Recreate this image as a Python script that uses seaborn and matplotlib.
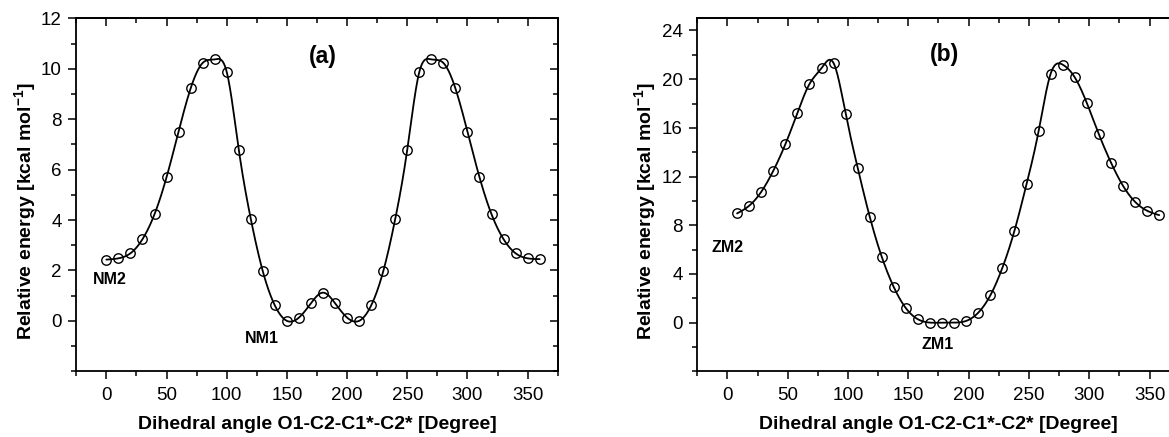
import numpy as np
import pandas as pd
import matplotlib
matplotlib.use("Agg")
import matplotlib.pyplot as plt
from matplotlib.ticker import MultipleLocator, NullFormatter, FixedLocator
import seaborn as sns

# ---------------- data ----------------
angle_a = [0, 10, 20, 30, 40, 50, 60, 70, 80, 90, 100, 110, 120, 130, 140, 150, 160, 170, 180,
           190, 200, 210, 220, 230, 240, 250, 260, 270, 280, 290, 300, 310, 320, 330, 340, 350, 360]
energy_a = [2.43, 2.48, 2.68, 3.24, 4.23, 5.70, 7.51, 9.22, 10.23, 10.37, 9.87, 6.79, 4.04, 1.96, 0.61,
            0.00, 0.13, 0.70, 1.12, 0.70, 0.13, 0.00, 0.61, 1.96, 4.04, 6.79, 9.87, 10.37, 10.23, 9.22,
            7.51, 5.70, 4.23, 3.24, 2.68, 2.48, 2.45]

angle_b = [8, 18, 28, 38, 48, 58, 68, 78, 88, 98, 108, 118, 128, 138, 148, 158, 168, 178, 188,
           198, 208, 218, 228, 238, 248, 258, 268, 278, 288, 298, 308, 318, 328, 338, 348, 358]
energy_b = [8.97, 9.60, 10.74, 12.47, 14.65, 17.22, 19.60, 20.91, 21.32, 17.17, 12.71, 8.69, 5.39, 2.90,
            1.18, 0.27, 0.00, 0.00, 0.00, 0.14, 0.82, 2.24, 4.51, 7.55, 11.37, 15.72, 20.45, 21.19,
            20.15, 18.04, 15.47, 13.15, 11.24, 9.92, 9.19, 8.83]

yticks_a = [0, 2, 4, 6, 8, 10, 12]
yticks_b = [0, 4, 8, 12, 16, 20, 24]
xlabel = "Dihedral angle O1-C2-C1*-C2* [Degree]"
ylabel = "Relative energy [kcal mol$^{\\mathregular{-1}}$]"
panel_tags = ["(a)", "(b)"]
labels_a = [("NM2", 3, 1.63), ("NM1", 129.5, -0.69)]
labels_b = [("ZM2", 0.3, 6.18), ("ZM1", 174.5, -1.83)]


def natural_spline(x, y, xs):
    x = np.asarray(x, float)
    y = np.asarray(y, float)
    n = len(x)
    h = np.diff(x)
    A = np.zeros((n, n))
    r = np.zeros(n)
    A[0, 0] = 1
    A[-1, -1] = 1
    for i in range(1, n - 1):
        A[i, i - 1] = h[i - 1]
        A[i, i] = 2 * (h[i - 1] + h[i])
        A[i, i + 1] = h[i]
        r[i] = 6 * ((y[i + 1] - y[i]) / h[i] - (y[i] - y[i - 1]) / h[i - 1])
    M = np.linalg.solve(A, r)
    idx = np.clip(np.searchsorted(x, xs) - 1, 0, n - 2)
    x0, x1 = x[idx], x[idx + 1]
    hh = x1 - x0
    t0 = x1 - xs
    t1 = xs - x0
    return (M[idx] * t0 ** 3 / (6 * hh) + M[idx + 1] * t1 ** 3 / (6 * hh)
            + (y[idx] / hh - M[idx] * hh / 6) * t0 + (y[idx + 1] / hh - M[idx + 1] * hh / 6) * t1)


sns.set_theme(style="ticks")
plt.rcParams["font.family"] = ["Liberation Sans", "DejaVu Sans"]
plt.rcParams["mathtext.fontset"] = "custom"
plt.rcParams["mathtext.rm"] = "Liberation Sans"
plt.rcParams["mathtext.bf"] = "Liberation Sans:bold"
for k in ["text.color", "axes.labelcolor", "xtick.color", "ytick.color", "axes.edgecolor",
          "xtick.labelcolor", "ytick.labelcolor"]:
    plt.rcParams[k] = "black"

fig = plt.figure(figsize=(11.69, 4.37), dpi=100)
fig.patch.set_facecolor("white")

W, H = 1169.0, 437.0
ax_a = fig.add_axes([76.3 / W, (H - 371.3) / H, 481.4 / W, 353.0 / H])
ax_b = fig.add_axes([697.3 / W, (H - 371.3) / H, 482.4 / W, 353.0 / H])

configs = [
    (ax_a, angle_a, energy_a, (-2, 12), yticks_a, 1, labels_a, panel_tags[0], (180, 10.5), -0.0776),
    (ax_b, angle_b, energy_b, (-4, 25), yticks_b, 2, labels_b, panel_tags[1], (180, 22), -0.0796),
]

for ax, xs_, ys_, ylim, yt, ymin, labs, tag, tagpos, ylx in configs:
    xf = np.linspace(xs_[0], xs_[-1], 800)
    yf = natural_spline(xs_, ys_, xf)
    sns.lineplot(x=xf, y=yf, ax=ax, color="black", linewidth=1.3, sort=False)
    sns.lineplot(x=xs_, y=ys_, ax=ax, linestyle="none", marker="o", markersize=6.8,
                 markerfacecolor="none", markeredgecolor="black", markeredgewidth=1.0,
                 color="black", sort=False)
    ax.set_xlim(-25, 375)
    ax.set_ylim(*ylim)
    ax.xaxis.set_major_locator(MultipleLocator(50))
    ax.xaxis.set_minor_locator(MultipleLocator(25))
    ax.yaxis.set_major_locator(FixedLocator(yt))
    ax.yaxis.set_minor_locator(MultipleLocator(ymin))
    ax.tick_params(which="major", direction="out", length=6, width=1.1, labelsize=13.5,
                   colors="black", pad=4.5)
    ax.tick_params(which="minor", direction="out", length=3.5, width=1.1)
    ax.tick_params(axis="x", which="major", pad=5)
    for s in ax.spines.values():
        s.set_linewidth(1.3)
        s.set_color("black")
    # mirrored inward ticks on top / right
    top = ax.secondary_xaxis("top")
    top.xaxis.set_major_locator(MultipleLocator(50))
    top.xaxis.set_minor_locator(MultipleLocator(25))
    top.xaxis.set_major_formatter(NullFormatter())
    top.tick_params(which="major", direction="in", length=6, width=1.1)
    top.tick_params(which="minor", direction="in", length=3.5, width=1.1)
    top.spines["top"].set_linewidth(1.3)
    right = ax.secondary_yaxis("right")
    right.yaxis.set_major_locator(FixedLocator(yt))
    right.yaxis.set_minor_locator(MultipleLocator(ymin))
    right.yaxis.set_major_formatter(NullFormatter())
    right.tick_params(which="major", direction="in", length=6, width=1.1)
    right.tick_params(which="minor", direction="in", length=3.5, width=1.1)
    right.spines["right"].set_linewidth(1.3)

    ax.set_xlabel(xlabel, fontsize=14, fontweight="bold", labelpad=9)
    ax.set_ylabel(ylabel, fontsize=14, fontweight="bold")
    ax.yaxis.set_label_coords(ylx, 0.454)
    for txt, lx, ly in labs:
        ax.text(lx, ly, txt, fontsize=11.5, fontweight="bold", ha="center", va="center")
    ax.text(tagpos[0], tagpos[1], tag, fontsize=16.5, fontweight="bold", ha="center", va="center")

fig.savefig("out.png", dpi=100, facecolor="white")
